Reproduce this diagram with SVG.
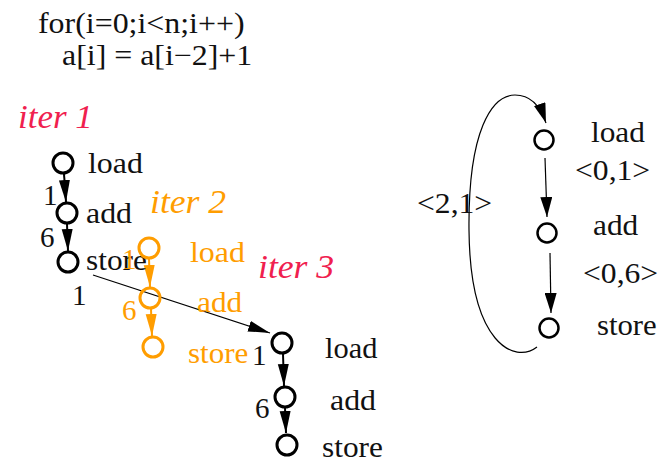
<svg xmlns="http://www.w3.org/2000/svg" width="663" height="462" viewBox="0 0 663 462">
  <style>
    .t { font-family: 'Liberation Serif', serif; font-size: 29px; fill: #111; }
    .iter { font-style: italic; font-size: 33px; }
    .red { fill: #f0204e; }
    .org { fill: #ff9d00; }
    .node { fill: #fff; stroke: #000; stroke-width: 3; }
    .onode { fill: none; stroke: #ff9d00; stroke-width: 3; }
    .rnode { fill: #fff; stroke: #000; stroke-width: 2.5; }
    .dep { stroke: #000; stroke-width: 2; fill: none; }
    .odep { stroke: #ff9d00; stroke-width: 2; fill: none; }
    .thin { stroke: #000; stroke-width: 1.2; fill: none; }
  </style>
  <defs>
    <marker id="head" markerUnits="userSpaceOnUse" markerWidth="24" markerHeight="12" refX="22" refY="5.5" orient="auto">
      <path d="M0,0 L22,5.5 L0,11 z" fill="#000"/>
    </marker>
    <marker id="ohead" markerUnits="userSpaceOnUse" markerWidth="24" markerHeight="12" refX="22" refY="5.5" orient="auto">
      <path d="M0,0 L22,5.5 L0,11 z" fill="#ff9d00"/>
    </marker>
    <marker id="thead" markerUnits="userSpaceOnUse" markerWidth="22" markerHeight="12" refX="20" refY="6" orient="auto">
      <path d="M0,0 L20,6 L0,12 z" fill="#000"/>
    </marker>
  </defs>

  <!-- loop source (glyphs widened slightly) -->
  <g id="code" font-family="Liberation Serif">
    <text class="t" font-family="Liberation Serif" style="font-family:'Liberation Serif',serif" transform="matrix(1.1 0 0 1 38 33)">for(i=0;i&lt;n;i++)</text>
    <text class="t" font-family="Liberation Serif" style="font-family:'Liberation Serif',serif" transform="matrix(1.1 0 0 1 62 65)">a[i] = a[i−2]+1</text>
  </g>

  <!-- iteration titles -->
  <g id="titles" font-family="Liberation Serif">
    <text class="t iter red" font-family="Liberation Serif" style="font-family:'Liberation Serif',serif" transform="matrix(1.06 0 0 1 18 128)">iter 1</text>
    <text class="t iter org" font-family="Liberation Serif" style="font-family:'Liberation Serif',serif" transform="matrix(1.08 0 0 1 150 213)">iter 2</text>
    <text class="t iter red" font-family="Liberation Serif" style="font-family:'Liberation Serif',serif" transform="matrix(1.08 0 0 1 258 278)">iter 3</text>
  </g>

  <!-- connectors -->
  <g id="connectors">
    <line class="dep" x1="64" y1="174" x2="66" y2="202" marker-end="url(#head)"/>
    <line class="dep" x1="67" y1="224" x2="68" y2="251" marker-end="url(#head)"/>
    <line class="thin" x1="93" y1="275" x2="270" y2="333" marker-end="url(#head)"/>
    <line class="odep" x1="149" y1="259" x2="150" y2="287" marker-end="url(#ohead)"/>
    <line class="odep" x1="151" y1="309" x2="152" y2="336" marker-end="url(#ohead)"/>
    <line class="dep" x1="283" y1="354" x2="284" y2="386" marker-end="url(#head)"/>
    <line class="dep" x1="285" y1="408" x2="286" y2="433" marker-end="url(#head)"/>
    <line class="thin" x1="545" y1="158" x2="547" y2="217" marker-end="url(#thead)"/>
    <line class="thin" x1="550" y1="253" x2="551" y2="313" marker-end="url(#thead)"/>
    <path class="thin" d="M537,347 C515,364 470,345 469,230 C468,130 492,95 515,95 C532,95 541,108 546,123" marker-end="url(#thead)"/>
  </g>

  <!-- iteration 1 -->
  <g id="iter1-load" font-family="Liberation Serif"><circle class="node" cx="63" cy="163" r="10"/><text class="t" font-family="Liberation Serif" style="font-family:'Liberation Serif',serif" transform="matrix(1.1 0 0 1 88 173)">load</text></g>
  <g id="iter1-add" font-family="Liberation Serif"><circle class="node" cx="67" cy="213" r="10"/><text class="t" font-family="Liberation Serif" style="font-family:'Liberation Serif',serif" transform="matrix(1.1 0 0 1 86 223)">add</text></g>
  <g id="iter1-store" font-family="Liberation Serif"><circle class="node" cx="68" cy="262" r="10"/><text class="t" font-family="Liberation Serif" style="font-family:'Liberation Serif',serif" transform="matrix(1.08 0 0 1 86 270)">store</text></g>
  <g id="iter1-lat" font-family="Liberation Serif">
    <text class="t" font-family="Liberation Serif" style="font-family:'Liberation Serif',serif" x="43" y="205">1</text>
    <text class="t" font-family="Liberation Serif" style="font-family:'Liberation Serif',serif" x="40" y="247">6</text>
    <text class="t" font-family="Liberation Serif" style="font-family:'Liberation Serif',serif" x="72" y="305">1</text>
  </g>

  <!-- iteration 2 -->
  <g id="iter2-load" font-family="Liberation Serif"><circle class="onode" cx="149" cy="248" r="10"/><text class="t org" font-family="Liberation Serif" style="font-family:'Liberation Serif',serif" transform="matrix(1.1 0 0 1 190 262)">load</text></g>
  <g id="iter2-add" font-family="Liberation Serif"><circle class="onode" cx="150" cy="298" r="10"/><text class="t org" font-family="Liberation Serif" style="font-family:'Liberation Serif',serif" transform="matrix(1.08 0 0 1 197 312)">add</text></g>
  <g id="iter2-store" font-family="Liberation Serif"><circle class="onode" cx="153" cy="347" r="10"/><text class="t org" font-family="Liberation Serif" style="font-family:'Liberation Serif',serif" transform="matrix(1.07 0 0 1 188 363)">store</text></g>
  <g id="iter2-lat" font-family="Liberation Serif">
    <text class="t org" font-family="Liberation Serif" style="font-family:'Liberation Serif',serif" x="122" y="269">1</text>
    <text class="t org" font-family="Liberation Serif" style="font-family:'Liberation Serif',serif" x="122" y="320">6</text>
  </g>

  <!-- iteration 3 -->
  <g id="iter3-load" font-family="Liberation Serif"><circle class="node" cx="282" cy="343" r="10"/><text class="t" font-family="Liberation Serif" style="font-family:'Liberation Serif',serif" transform="matrix(1.05 0 0 1 325 358)">load</text></g>
  <g id="iter3-add" font-family="Liberation Serif"><circle class="node" cx="285" cy="397" r="10"/><text class="t" font-family="Liberation Serif" style="font-family:'Liberation Serif',serif" transform="matrix(1.1 0 0 1 330 410)">add</text></g>
  <g id="iter3-store" font-family="Liberation Serif"><circle class="node" cx="287" cy="445" r="10"/><text class="t" font-family="Liberation Serif" style="font-family:'Liberation Serif',serif" transform="matrix(1.08 0 0 1 322 457)">store</text></g>
  <g id="iter3-lat" font-family="Liberation Serif">
    <text class="t" font-family="Liberation Serif" style="font-family:'Liberation Serif',serif" x="252" y="365">1</text>
    <text class="t" font-family="Liberation Serif" style="font-family:'Liberation Serif',serif" x="255" y="418">6</text>
  </g>

  <!-- dependence graph -->
  <g id="dg-load" font-family="Liberation Serif"><circle class="rnode" cx="544" cy="140" r="9.5"/><text class="t" font-family="Liberation Serif" style="font-family:'Liberation Serif',serif" transform="matrix(1.08 0 0 1 591 142)">load</text></g>
  <g id="dg-add" font-family="Liberation Serif"><circle class="rnode" cx="547" cy="233" r="9.5"/><text class="t" font-family="Liberation Serif" style="font-family:'Liberation Serif',serif" transform="matrix(1.08 0 0 1 593 235)">add</text></g>
  <g id="dg-store" font-family="Liberation Serif"><circle class="rnode" cx="549" cy="328" r="9.5"/><text class="t" font-family="Liberation Serif" style="font-family:'Liberation Serif',serif" transform="matrix(1.06 0 0 1 597 335)">store</text></g>
  <g id="dg-labels" font-family="Liberation Serif">
    <text class="t" font-family="Liberation Serif" style="font-family:'Liberation Serif',serif" transform="matrix(1.09 0 0 1 575 180)">&lt;0,1&gt;</text>
    <text class="t" font-family="Liberation Serif" style="font-family:'Liberation Serif',serif" transform="matrix(1.09 0 0 1 583 283)">&lt;0,6&gt;</text>
    <text class="t" font-family="Liberation Serif" style="font-family:'Liberation Serif',serif" transform="matrix(1.09 0 0 1 417 213)">&lt;2,1&gt;</text>
  </g>
</svg>
